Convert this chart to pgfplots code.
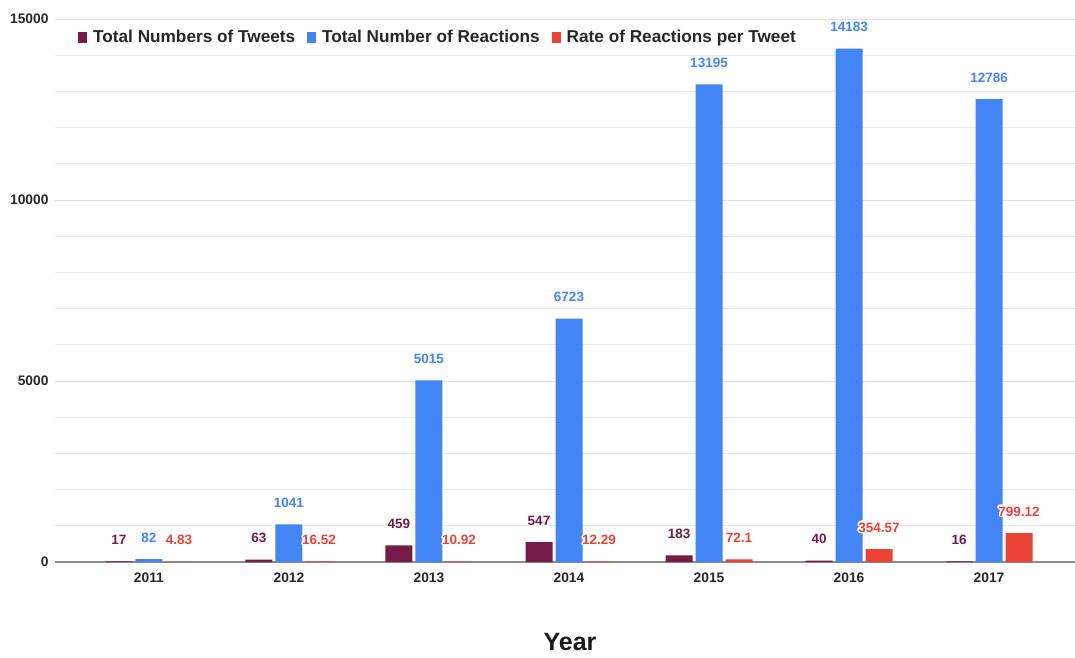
\documentclass[border=0pt]{standalone}
\usepackage{fontspec}
\setmainfont{Liberation Sans}
\usepackage{pgfplots}
\pgfplotsset{compat=1.18}
\usepackage{contour}
\contourlength{1.3pt}
\definecolor{tweets}{HTML}{741B47}
\definecolor{reacts}{HTML}{4285F4}
\definecolor{rate}{HTML}{EA4335}
\pgfplotsset{
  sqlegend/.style={legend image code/.code={\fill[##1] (0pt,-5.5pt) rectangle (9pt,5.5pt);}},
}

\begin{document}
\begin{tikzpicture}
\path[use as bounding box] (-55pt,-95pt) rectangle (1020pt,562pt);
\begin{axis}[
  at={(0pt,0pt)}, anchor=south west,
  scale only axis, width=1020pt, height=543pt,
  ybar=3pt, bar width=27pt,
  xmin=-0.671, xmax=6.614, ymin=0, ymax=15000,
  scaled y ticks=false,
  xtick={0,1,2,3,4,5,6},
  xticklabels={2011,2012,2013,2014,2015,2016,2017},
  ytick={5000,10000,15000},
  minor ytick={1000,2000,3000,4000,6000,7000,8000,9000,11000,12000,13000,14000},
  extra y ticks={0},
  extra y tick style={major grid style={draw=black!45, line width=1.3pt}},
  ymajorgrids, yminorgrids,
  major grid style={draw=black!12, line width=0.9pt},
  minor grid style={draw=black!9, line width=0.9pt},
  axis line style={draw=none},
  major tick length=0pt, minor tick length=0pt,
  tick label style={font=\fontsize{13.8}{16}\selectfont\bfseries, text=black!85},
  xticklabel style={yshift=-7pt},
  yticklabel style={xshift=-3pt},
  /pgf/number format/assume math mode=true,
  /pgf/number format/1000 sep={},
  xlabel={Year},
  xlabel style={font=\fontsize{25}{30}\selectfont\bfseries, text=black!90,
    at={(rel axis cs:0.5,0)}, anchor=center, yshift=-80pt, xshift=5pt},
  nodes near coords={\contour{white}{\pgfmathprintnumber{\pgfplotspointmeta}}},
  nodes near coords style={font=\fontsize{13.5}{16}\selectfont\bfseries,
    anchor=base, yshift=17pt, inner sep=0pt},
  legend columns=3,
  legend style={at={(rel axis cs:0,1)}, anchor=north west, xshift=23pt, yshift=-9pt,
    draw=none, fill=none, inner sep=0pt,
    font=\fontsize{17.2}{20}\selectfont\bfseries, text=black!85,
    /tikz/every odd column/.append style={column sep=4pt},
    /tikz/every even column/.append style={column sep=10pt}},
]
\addplot[fill=tweets, draw=none, sqlegend,
  every node near coord/.append style={text=tweets}]
  coordinates {(0,17) (1,63) (2,459) (3,547) (4,183) (5,40) (6,16)};
\addlegendentry{Total Numbers of Tweets}
\addplot[fill=reacts, draw=none, sqlegend,
  every node near coord/.append style={text=reacts}]
  coordinates {(0,82) (1,1041) (2,5015) (3,6723) (4,13195) (5,14183) (6,12786)};
\addlegendentry{Total Number of Reactions}
\addplot[fill=rate, draw=none, sqlegend,
  every node near coord/.append style={text=rate}]
  coordinates {(0,4.83) (1,16.52) (2,10.92) (3,12.29) (4,72.1) (5,354.57) (6,799.12)};
\addlegendentry{Rate of Reactions per Tweet}
\end{axis}
\end{tikzpicture}
\end{document}
